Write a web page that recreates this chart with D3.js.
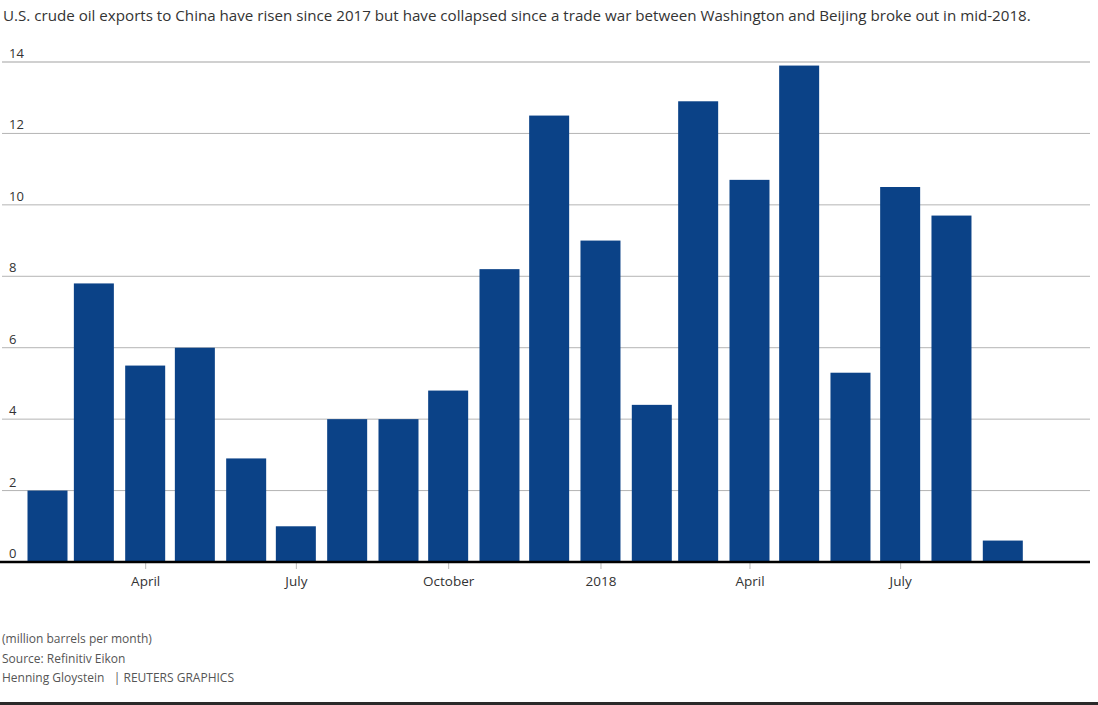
<!DOCTYPE html>
<html><head><meta charset="utf-8">
<script src="https://cdn.jsdelivr.net/npm/d3@7"></script>
<style>
body{margin:0;background:#fff;}
svg{display:block;font-family:"Open Sans","Noto Sans",sans-serif;}
</style></head>
<body><svg id="c" width="1098" height="705"></svg>
<script>
const months = ["2017-02","2017-03","2017-04","2017-05","2017-06","2017-07","2017-08","2017-09","2017-10","2017-11","2017-12","2018-01","2018-02","2018-03","2018-04","2018-05","2018-06","2018-07","2018-08","2018-09"];
const exportsVals = [2.0,7.8,5.5,6.0,2.9,1.0,4.0,4.0,4.8,8.2,12.5,9.0,4.4,12.9,10.7,13.9,5.3,10.5,9.7,0.6];
const xTicks = ["2017-04","2017-07","2017-10","2018-01","2018-04","2018-07"];
const xTickLabels = ["April","July","October","2018","April","July"];
const yTicks = [0,2,4,6,8,10,12,14];
const title = "U.S. crude oil exports to China have risen since 2017 but have collapsed since a trade war between Washington and Beijing broke out in mid-2018.";
const footer = ["(million barrels per month)","Source: Refinitiv Eikon","Henning Gloystein   | REUTERS GRAPHICS"];

const parse = d3.utcParse("%Y-%m");
const svg = d3.select("#c");
const W = 1098;
const y = d3.scaleLinear().domain([0,14]).range([562,62]);
const x = d3.scaleUtc().domain([parse(months[0]), parse(months[months.length-1])]).range([47.5,1002.8]);
const barW = 40;

svg.append("text").attr("x",3).attr("y",21).attr("font-size",15.15).attr("fill","#333").text(title);

// gridlines
svg.append("g").selectAll("line").data(yTicks.filter(d=>d>0)).join("line")
  .attr("x1",2).attr("x2",1090).attr("y1",d=>y(d)).attr("y2",d=>y(d))
  .attr("stroke",d=>d===14?"#d0d0d0":"#b4b4b4").attr("stroke-width",d=>d===14?2:1);
svg.append("g").selectAll("text").data(yTicks).join("text")
  .attr("x",9).attr("y",d=>y(d)-4).attr("font-size",13).attr("fill","#333").text(d=>d);

// bars
svg.append("g").selectAll("rect").data(months).join("rect")
  .attr("x",d=>x(parse(d))-barW/2).attr("width",barW)
  .attr("y",(d,i)=>y(exportsVals[i])).attr("height",(d,i)=>y(0)-y(exportsVals[i]))
  .attr("fill","#0b4287");

// x axis
const ax = svg.append("g").attr("transform","translate(0,563)")
  .call(d3.axisBottom(x).tickValues(xTicks.map(parse)).tickFormat((d,i)=>xTickLabels[i]).tickSize(6).tickPadding(7));
ax.select(".domain").remove();
ax.selectAll(".tick line").attr("stroke","#bbb");
ax.selectAll(".tick text").attr("font-size",13.5).attr("fill","#333").attr("font-family","\"Open Sans\",\"Noto Sans\",sans-serif");
svg.append("line").attr("x1",0).attr("x2",1090).attr("y1",y(0)).attr("y2",y(0)).attr("stroke","#000").attr("stroke-width",2.5);

// footer
svg.append("g").selectAll("text").data(footer).join("text")
  .attr("x",2).attr("y",(d,i)=>643+i*19.5).attr("font-size",12).attr("fill","#555")
  .attr("xml:space","preserve").style("white-space","pre").text(d=>d);
svg.append("rect").attr("x",0).attr("y",702).attr("width",W).attr("height",3).attr("fill","#2a2a2a");
</script></body></html>
